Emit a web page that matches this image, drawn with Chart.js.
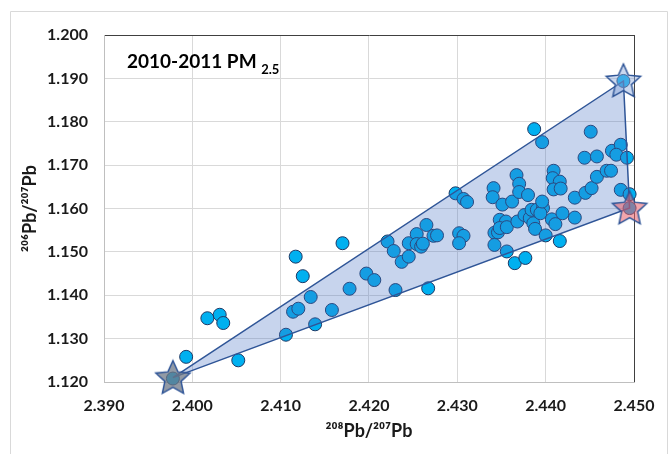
<!DOCTYPE html>
<html>
<head>
<meta charset="utf-8">
<script src="https://cdn.jsdelivr.net/npm/chart.js@4.4.1/dist/chart.umd.min.js"></script>
<style>
  html, body { margin: 0; padding: 0; background: #fff; }
  #wrap { width: 670px; height: 454px; position: relative; }
</style>
</head>
<body>
<div id="wrap"><canvas id="pbChart"></canvas></div>
<script>
// PM2.5 samples, 208Pb/207Pb vs 206Pb/207Pb
const sampleX = [
  2.3978, 2.3993, 2.4017, 2.4031, 2.4035, 2.4052, 2.4106, 2.4117, 2.4125, 2.4114,
  2.4120, 2.4134, 2.4139, 2.4158, 2.4170, 2.4178, 2.4197, 2.4206, 2.4221, 2.4228,
  2.4230, 2.4237, 2.4245, 2.4245, 2.4254, 2.4254, 2.4259, 2.4261, 2.4265, 2.4267,
  2.4273, 2.4277, 2.4298, 2.4307, 2.4311, 2.4302, 2.4307, 2.4302, 2.4341, 2.4340,
  2.4351, 2.4362, 2.4342, 2.4346, 2.4342, 2.4348, 2.4355, 2.4348, 2.4356, 2.4356,
  2.4365, 2.4377, 2.4367, 2.4370, 2.4370, 2.4380, 2.4368, 2.4376, 2.4382, 2.4384,
  2.4386, 2.4388, 2.4390, 2.4397, 2.4394, 2.4396, 2.4400, 2.4407, 2.4411, 2.4416,
  2.4419, 2.4433, 2.4433, 2.4445, 2.4452, 2.4458, 2.4469, 2.4474, 2.4485, 2.4495,
  2.4495, 2.4409, 2.4408, 2.4416, 2.4409, 2.4417, 2.4444, 2.4458, 2.4475, 2.4485,
  2.4480, 2.4492, 2.4451, 2.4387, 2.4396, 2.4488
];
const sampleY = [
  1.1208, 1.1258, 1.1347, 1.1355, 1.1336, 1.1250, 1.1309, 1.1489, 1.1444, 1.1362,
  1.1369, 1.1396, 1.1333, 1.1366, 1.1520, 1.1415, 1.1450, 1.1435, 1.1524, 1.1502,
  1.1412, 1.1477, 1.1489, 1.1520, 1.1541, 1.1518, 1.1512, 1.1519, 1.1562, 1.1416,
  1.1537, 1.1538, 1.1635, 1.1622, 1.1615, 1.1543, 1.1537, 1.1520, 1.1647, 1.1626,
  1.1609, 1.1616, 1.1544, 1.1545, 1.1516, 1.1574, 1.1570, 1.1555, 1.1557, 1.1501,
  1.1474, 1.1486, 1.1677, 1.1657, 1.1638, 1.1631, 1.1570, 1.1585, 1.1578, 1.1597,
  1.1566, 1.1553, 1.1597, 1.1601, 1.1589, 1.1616, 1.1538, 1.1575, 1.1564, 1.1525,
  1.1589, 1.1579, 1.1625, 1.1636, 1.1647, 1.1673, 1.1687, 1.1687, 1.1643, 1.1633,
  1.1601, 1.1687, 1.1670, 1.1662, 1.1644, 1.1646, 1.1717, 1.1720, 1.1733, 1.1747,
  1.1724, 1.1717, 1.1777, 1.1783, 1.1753, 1.1894
];

// end members (stars) and the mixing triangle between them
const endX = [2.3978, 2.4488, 2.4495];
const endY = [1.1210, 1.1894, 1.1601];
const endFill = ['rgba(110,120,135,0.75)', 'rgba(140,168,220,0.45)', 'rgba(232,92,104,0.55)'];

const xMin = 2.390, xMax = 2.450, xStep = 0.010;
const yMin = 1.120, yMax = 1.200, yStep = 0.010;

const titleMain = '2010-2011 PM ';
const titleSub = '2.5';
const xTitle = '\u00B2\u2070\u2078Pb/\u00B2\u2070\u2077Pb';
const yTitle = '\u00B2\u2070\u2076Pb/\u00B2\u2070\u2077Pb';

const FONT = 'Lato, "Liberation Sans", sans-serif';

function makeStar(fill) {
    const c = document.createElement('canvas');
    c.width = 40; c.height = 40;
    const g = c.getContext('2d');
    const R = 18, r = 8.5, cx = 20, cy = 21;
    g.beginPath();
    for (let i = 0; i < 10; i++) {
        const rad = i % 2 === 0 ? R : r;
        const a = -Math.PI / 2 + i * Math.PI / 5;
        const px = cx + rad * Math.cos(a), py = cy + rad * Math.sin(a);
        if (i === 0) g.moveTo(px, py); else g.lineTo(px, py);
    }
    g.closePath();
    g.fillStyle = fill;
    g.fill();
    g.lineWidth = 1.5;
    g.strokeStyle = '#2F5597';
    g.stroke();
    return c;
}

const samplePoints = sampleX.map((x, i) => ({ x: x, y: sampleY[i] }));
const triangle = endX.map((x, i) => ({ x: x, y: endY[i] }));
triangle.push({ x: endX[0], y: endY[0] });
const starPoints = endX.map((x, i) => ({ x: x, y: endY[i] }));
const starStyles = endFill.map(makeStar);

const frame = {
    id: 'frame',
    beforeDraw(chart) {
        const ctx = chart.ctx;
        ctx.save();
        ctx.strokeStyle = '#d9d9d9';
        ctx.lineWidth = 1;
        ctx.beginPath();
        ctx.moveTo(10.5, 470);
        ctx.lineTo(10.5, 11.5);
        ctx.lineTo(667.5, 11.5);
        ctx.lineTo(667.5, 470);
        ctx.stroke();
        ctx.restore();
    },
    afterDatasetsDraw(chart) {
        const ctx = chart.ctx;
        const a = chart.chartArea;
        ctx.save();
        ctx.fillStyle = '#000';
        ctx.textBaseline = 'alphabetic';
        ctx.font = 'bold 19px ' + FONT;
        ctx.fillText(titleMain, a.left + 23, 68);
        const w = ctx.measureText(titleMain).width;
        ctx.font = 'bold 13px ' + FONT;
        ctx.fillText(titleSub, a.left + 23 + w, 74);
        ctx.restore();
    }
};

new Chart(document.getElementById('pbChart'), {
    type: 'scatter',
    data: {
        datasets: [{
            label: 'PM2.5',
            data: samplePoints,
            backgroundColor: '#00B0F0',
            borderColor: '#1F3864',
            borderWidth: 1,
            pointRadius: 6.5,
            clip: false,
            order: 3
        }, {
            type: 'line',
            label: 'range',
            data: triangle,
            borderColor: '#2F5597',
            borderWidth: 1.5,
            backgroundColor: 'rgba(68,114,196,0.3)',
            fill: 'shape',
            pointRadius: 0,
            tension: 0,
            clip: false,
            order: 2
        }, {
            label: 'end members',
            data: starPoints,
            pointStyle: starStyles,
            pointRadius: 18,
            clip: false,
            order: 1
        }]
    },
    options: {
        responsive: true,
        maintainAspectRatio: false,
        animation: false,
        layout: { padding: { left: 10, top: 35, right: 36, bottom: 8 } },
        plugins: {
            legend: { display: false },
            tooltip: { enabled: false }
        },
        scales: {
            x: {
                type: 'linear',
                min: xMin, max: xMax,
                afterFit(s) { s.height = 64; },
                border: { color: '#bfbfbf', width: 1 },
                grid: {
                    drawTicks: false,
                    color: c => (Math.abs(c.tick.value - xMax) < 1e-9 ? '#404040' : '#d9d9d9')
                },
                ticks: {
                    stepSize: xStep,
                    padding: 14,
                    color: '#1a1a1a',
                    font: { family: FONT, size: 16, weight: 'bold' },
                    callback: v => v.toFixed(3)
                },
                title: {
                    display: true,
                    text: xTitle,
                    color: '#1a1a1a',
                    padding: { top: 8 },
                    font: { family: FONT, size: 18, weight: 'bold' }
                }
            },
            y: {
                type: 'linear',
                min: yMin, max: yMax,
                afterFit(s) { s.width = 94; },
                border: { color: '#bfbfbf', width: 1 },
                grid: {
                    drawTicks: false,
                    color: c => (Math.abs(c.tick.value - yMax) < 1e-9 ? '#404040' : '#d9d9d9')
                },
                ticks: {
                    stepSize: yStep,
                    padding: 16,
                    color: '#1a1a1a',
                    font: { family: FONT, size: 16, weight: 'bold' },
                    callback: v => v.toFixed(3)
                },
                title: {
                    display: true,
                    text: yTitle,
                    color: '#1a1a1a',
                    padding: { top: 9, bottom: 0 },
                    font: { family: FONT, size: 18, weight: 'bold' }
                }
            }
        }
    },
    plugins: [frame]
});
</script>
</body>
</html>
